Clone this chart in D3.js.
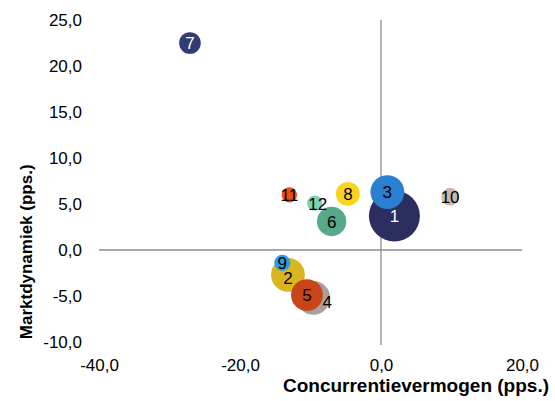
<!DOCTYPE html>
<html>
<head>
<meta charset="utf-8">
<script src="https://cdn.jsdelivr.net/npm/d3@7"></script>
<style>
  body { margin: 0; background: #fff; }
  text { font-family: "Liberation Sans", Arial, sans-serif; }
  .tick text { font-size: 17px; fill: #000; }
  .axis-label { font-size: 17px; font-weight: bold; fill: #000; }
  .x-label { font-size: 19px; }
  .bubble-label { font-size: 17px; }
</style>
</head>
<body>
<svg width="555" height="401"></svg>
<script>
(function (d3) {
  'use strict';

  // data
  const ids    = [1, 2, 3, 4, 5, 6, 7, 8, 9, 10, 11, 12];
  const xVals  = [1.9, -13.2, 0.9, -9.6, -10.5, -7.0, -27.1, -4.7, -14.0, 9.8, -13.0, -9.4];
  const yVals  = [3.7, -2.7, 6.3, -5.2, -4.9, 3.1, 22.5, 6.1, -1.4, 5.8, 6.0, 5.1];
  const sizes  = [100, 44, 44, 44, 39, 33, 18, 22, 10, 12, 9, 9];
  const xTicks = [-40, -20, 0, 20];
  const yTicks = [-10, -5, 0, 5, 10, 15, 20, 25];

  const colors = ['#2b2e5f', '#d9b51f', '#2b7fd1', '#a8a09a', '#c94418', '#58a88a',
                  '#313c73', '#fad31d', '#2f9de9', '#c9b7ae', '#e84e16', '#78d2b4'];
  const labelColors = { 1: '#fff', 7: '#fff' };
  const labelShift = { 4: [14, 4], 12: [3, 1], 2: [0, 3] };

  const svg = d3.select('svg');
  const margin = {top: 20, right: 33, bottom: 59, left: 99};
  const width = +svg.attr('width');
  const height = +svg.attr('height');
  const innerWidth = width - margin.left - margin.right;
  const innerHeight = height - margin.top - margin.bottom;

  const data = ids.map((id, i) => ({id, x: xVals[i], y: yVals[i], s: sizes[i], c: colors[i]}));

  const xScale = d3.scaleLinear().domain([-40, 20]).range([0, innerWidth]);
  const yScale = d3.scaleLinear().domain([-10, 25]).range([innerHeight, 0]);
  const rScale = d3.scaleSqrt().domain([0, 100]).range([0, 25.5]);
  const fmt = d => d3.format('.1f')(d).replace('.', ',').replace('−', '-');

  const g = svg.append('g')
      .attr('transform', `translate(${margin.left},${margin.top})`);

  const xAxisG = g.append('g')
      .attr('transform', `translate(0,${innerHeight})`)
      .call(d3.axisBottom(xScale).tickValues(xTicks).tickFormat(fmt).tickSize(0).tickPadding(17));
  const yAxisG = g.append('g')
      .call(d3.axisLeft(yScale).tickValues(yTicks).tickFormat(fmt).tickSize(0).tickPadding(17));
  xAxisG.select('.domain').remove();
  yAxisG.select('.domain').remove();
  g.selectAll('.tick text').attr('font-family', null);

  // cross lines through zero
  g.append('line')
      .attr('x1', 0).attr('x2', innerWidth)
      .attr('y1', yScale(0)).attr('y2', yScale(0))
      .attr('stroke', '#8c8c8c').attr('stroke-width', 1.3);
  g.append('line')
      .attr('x1', xScale(0)).attr('x2', xScale(0))
      .attr('y1', 0).attr('y2', innerHeight + 3)
      .attr('stroke', '#8c8c8c').attr('stroke-width', 1.3);

  g.selectAll('circle').data(data)
    .enter().append('circle')
      .attr('cx', d => xScale(d.x))
      .attr('cy', d => yScale(d.y))
      .attr('r', d => rScale(d.s))
      .attr('fill', d => d.c);

  g.selectAll('.bubble-label').data(data)
    .enter().append('text')
      .attr('class', 'bubble-label')
      .attr('x', d => xScale(d.x) + (labelShift[d.id] ? labelShift[d.id][0] : 0))
      .attr('y', d => yScale(d.y) + (labelShift[d.id] ? labelShift[d.id][1] : 0))
      .attr('dy', '0.36em')
      .attr('text-anchor', 'middle')
      .attr('fill', d => labelColors[d.id] || '#000')
      .text(d => d.id);

  svg.append('text')
      .attr('class', 'axis-label')
      .attr('transform', `translate(32,${margin.top + innerHeight * 0.72}) rotate(-90)`)
      .attr('text-anchor', 'middle')
      .text('Marktdynamiek (pps.)');

  svg.append('text')
      .attr('class', 'axis-label x-label')
      .attr('x', 549)
      .attr('y', 392)
      .attr('text-anchor', 'end')
      .text('Concurrentievermogen (pps.)');

}(d3));
</script>
</body>
</html>
